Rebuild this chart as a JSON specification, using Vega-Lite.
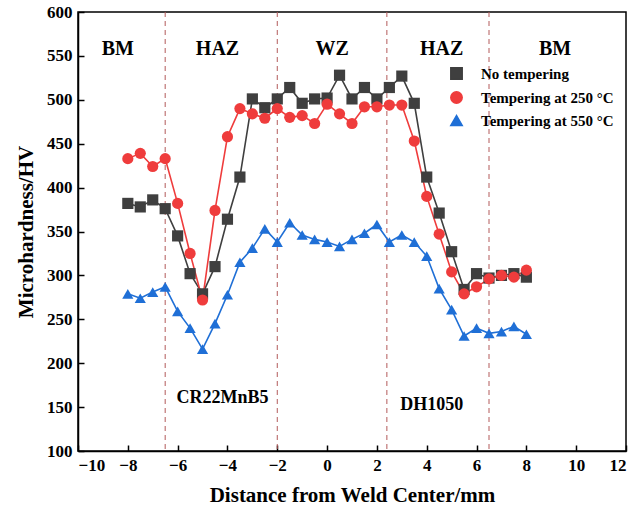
{
  "$schema": "https://vega.github.io/schema/vega-lite/v6.json",
  "width": 548,
  "height": 439,
  "autosize": {"type": "none"},
  "padding": {"left": 78, "top": 12, "right": 7, "bottom": 59},
  "background": "white",
  "config": {
    "view": {"stroke": "black", "strokeWidth": 1.5},
    "font": "Liberation Serif",
    "axis": {
      "domainColor": "black",
      "domainWidth": 1.5,
      "tickColor": "black",
      "tickWidth": 1.5,
      "tickSize": -6,
      "labelPadding": 12,
      "grid": false,
      "labelColor": "black",
      "labelFont": "Liberation Serif",
      "labelFontSize": 17,
      "labelFontWeight": "bold",
      "titleColor": "black",
      "titleFont": "Liberation Serif",
      "titleFontSize": 21,
      "titleFontWeight": "bold"
    }
  },
  "datasets": {
    "hv": [
      {"x": -8, "hv": 382, "series": "No tempering"},
      {"x": -7.5, "hv": 378, "series": "No tempering"},
      {"x": -7, "hv": 386, "series": "No tempering"},
      {"x": -6.5, "hv": 376, "series": "No tempering"},
      {"x": -6, "hv": 345, "series": "No tempering"},
      {"x": -5.5, "hv": 302, "series": "No tempering"},
      {"x": -5, "hv": 279, "series": "No tempering"},
      {"x": -4.5, "hv": 310, "series": "No tempering"},
      {"x": -4, "hv": 364, "series": "No tempering"},
      {"x": -3.5, "hv": 412, "series": "No tempering"},
      {"x": -3, "hv": 501, "series": "No tempering"},
      {"x": -2.5, "hv": 491, "series": "No tempering"},
      {"x": -2, "hv": 501, "series": "No tempering"},
      {"x": -1.5, "hv": 514, "series": "No tempering"},
      {"x": -1, "hv": 496, "series": "No tempering"},
      {"x": -0.5, "hv": 501, "series": "No tempering"},
      {"x": 0, "hv": 502, "series": "No tempering"},
      {"x": 0.5, "hv": 528, "series": "No tempering"},
      {"x": 1, "hv": 501, "series": "No tempering"},
      {"x": 1.5, "hv": 514, "series": "No tempering"},
      {"x": 2, "hv": 501, "series": "No tempering"},
      {"x": 2.5, "hv": 514, "series": "No tempering"},
      {"x": 3, "hv": 527, "series": "No tempering"},
      {"x": 3.5, "hv": 496, "series": "No tempering"},
      {"x": 4, "hv": 412, "series": "No tempering"},
      {"x": 4.5, "hv": 371, "series": "No tempering"},
      {"x": 5, "hv": 327, "series": "No tempering"},
      {"x": 5.5, "hv": 284, "series": "No tempering"},
      {"x": 6, "hv": 302, "series": "No tempering"},
      {"x": 6.5, "hv": 297, "series": "No tempering"},
      {"x": 7, "hv": 300, "series": "No tempering"},
      {"x": 7.5, "hv": 302, "series": "No tempering"},
      {"x": 8, "hv": 298, "series": "No tempering"},
      {"x": -8, "hv": 433, "series": "Tempering at 250 °C"},
      {"x": -7.5, "hv": 439, "series": "Tempering at 250 °C"},
      {"x": -7, "hv": 424, "series": "Tempering at 250 °C"},
      {"x": -6.5, "hv": 433, "series": "Tempering at 250 °C"},
      {"x": -6, "hv": 382, "series": "Tempering at 250 °C"},
      {"x": -5.5, "hv": 325, "series": "Tempering at 250 °C"},
      {"x": -5, "hv": 272, "series": "Tempering at 250 °C"},
      {"x": -4.5, "hv": 374, "series": "Tempering at 250 °C"},
      {"x": -4, "hv": 458, "series": "Tempering at 250 °C"},
      {"x": -3.5, "hv": 490, "series": "Tempering at 250 °C"},
      {"x": -3, "hv": 484, "series": "Tempering at 250 °C"},
      {"x": -2.5, "hv": 479, "series": "Tempering at 250 °C"},
      {"x": -2, "hv": 490, "series": "Tempering at 250 °C"},
      {"x": -1.5, "hv": 480, "series": "Tempering at 250 °C"},
      {"x": -1, "hv": 482, "series": "Tempering at 250 °C"},
      {"x": -0.5, "hv": 473, "series": "Tempering at 250 °C"},
      {"x": 0, "hv": 495, "series": "Tempering at 250 °C"},
      {"x": 0.5, "hv": 484, "series": "Tempering at 250 °C"},
      {"x": 1, "hv": 473, "series": "Tempering at 250 °C"},
      {"x": 1.5, "hv": 492, "series": "Tempering at 250 °C"},
      {"x": 2, "hv": 492, "series": "Tempering at 250 °C"},
      {"x": 2.5, "hv": 494, "series": "Tempering at 250 °C"},
      {"x": 3, "hv": 494, "series": "Tempering at 250 °C"},
      {"x": 3.5, "hv": 453, "series": "Tempering at 250 °C"},
      {"x": 4, "hv": 390, "series": "Tempering at 250 °C"},
      {"x": 4.5, "hv": 347, "series": "Tempering at 250 °C"},
      {"x": 5, "hv": 304, "series": "Tempering at 250 °C"},
      {"x": 5.5, "hv": 279, "series": "Tempering at 250 °C"},
      {"x": 6, "hv": 287, "series": "Tempering at 250 °C"},
      {"x": 6.5, "hv": 296, "series": "Tempering at 250 °C"},
      {"x": 7, "hv": 300, "series": "Tempering at 250 °C"},
      {"x": 7.5, "hv": 298, "series": "Tempering at 250 °C"},
      {"x": 8, "hv": 306, "series": "Tempering at 250 °C"},
      {"x": -8, "hv": 279, "series": "Tempering at 550 °C"},
      {"x": -7.5, "hv": 274, "series": "Tempering at 550 °C"},
      {"x": -7, "hv": 281, "series": "Tempering at 550 °C"},
      {"x": -6.5, "hv": 287, "series": "Tempering at 550 °C"},
      {"x": -6, "hv": 259, "series": "Tempering at 550 °C"},
      {"x": -5.5, "hv": 240, "series": "Tempering at 550 °C"},
      {"x": -5, "hv": 216, "series": "Tempering at 550 °C"},
      {"x": -4.5, "hv": 245, "series": "Tempering at 550 °C"},
      {"x": -4, "hv": 278, "series": "Tempering at 550 °C"},
      {"x": -3.5, "hv": 315, "series": "Tempering at 550 °C"},
      {"x": -3, "hv": 331, "series": "Tempering at 550 °C"},
      {"x": -2.5, "hv": 353, "series": "Tempering at 550 °C"},
      {"x": -2, "hv": 338, "series": "Tempering at 550 °C"},
      {"x": -1.5, "hv": 360, "series": "Tempering at 550 °C"},
      {"x": -1, "hv": 346, "series": "Tempering at 550 °C"},
      {"x": -0.5, "hv": 341, "series": "Tempering at 550 °C"},
      {"x": 0, "hv": 338, "series": "Tempering at 550 °C"},
      {"x": 0.5, "hv": 333, "series": "Tempering at 550 °C"},
      {"x": 1, "hv": 341, "series": "Tempering at 550 °C"},
      {"x": 1.5, "hv": 348, "series": "Tempering at 550 °C"},
      {"x": 2, "hv": 358, "series": "Tempering at 550 °C"},
      {"x": 2.5, "hv": 338, "series": "Tempering at 550 °C"},
      {"x": 3, "hv": 346, "series": "Tempering at 550 °C"},
      {"x": 3.5, "hv": 338, "series": "Tempering at 550 °C"},
      {"x": 4, "hv": 322, "series": "Tempering at 550 °C"},
      {"x": 4.5, "hv": 285, "series": "Tempering at 550 °C"},
      {"x": 5, "hv": 261, "series": "Tempering at 550 °C"},
      {"x": 5.5, "hv": 231, "series": "Tempering at 550 °C"},
      {"x": 6, "hv": 240, "series": "Tempering at 550 °C"},
      {"x": 6.5, "hv": 234, "series": "Tempering at 550 °C"},
      {"x": 7, "hv": 236, "series": "Tempering at 550 °C"},
      {"x": 7.5, "hv": 242, "series": "Tempering at 550 °C"},
      {"x": 8, "hv": 233, "series": "Tempering at 550 °C"}
    ],
    "zones": [{"d": -6.5}, {"d": -2}, {"d": 2.4}, {"d": 6.5}],
    "regions": [
      {"x": -8.4, "y": 558, "label": "BM"},
      {"x": -4.4, "y": 558, "label": "HAZ"},
      {"x": 0.2, "y": 558, "label": "WZ"},
      {"x": 4.6, "y": 558, "label": "HAZ"},
      {"x": 9.15, "y": 558, "label": "BM"}
    ],
    "steels": [
      {"x": -4.2, "y": 160, "label": "CR22MnB5"},
      {"x": 4.2, "y": 152, "label": "DH1050"}
    ]
  },
  "layer": [
    {
      "data": {"name": "zones"},
      "mark": {"type": "rule", "color": "#b35a5a", "strokeWidth": 1, "strokeDash": [5, 4]},
      "encoding": {
        "x": {"field": "d", "type": "quantitative", "scale": {"domain": [-10, 12], "nice": false, "zero": false}}
      }
    },
    {
      "data": {"name": "hv"},
      "mark": {"type": "line", "strokeWidth": 1.6},
      "encoding": {
        "x": {"field": "x", "type": "quantitative", "scale": {"domain": [-10, 12], "nice": false, "zero": false},
          "axis": {"values": [-10, -8, -6, -4, -2, 0, 2, 4, 6, 8, 10, 12], "title": "Distance from Weld Center/mm", "titlePadding": 11}},
        "y": {"field": "hv", "type": "quantitative", "scale": {"domain": [100, 600], "nice": false, "zero": false},
          "axis": {"values": [100, 150, 200, 250, 300, 350, 400, 450, 500, 550, 600], "title": "Microhardness/HV", "titlePadding": 10}},
        "color": {"field": "series", "type": "nominal",
          "scale": {"domain": ["No tempering", "Tempering at 250 °C", "Tempering at 550 °C"], "range": ["#3f3f3f", "#ef3c3c", "#1f6fd6"]}},
        "detail": {"field": "series"}
      }
    },
    {
      "data": {"name": "hv"},
      "mark": {"type": "point", "filled": true, "opacity": 1, "size": 125},
      "encoding": {
        "x": {"field": "x", "type": "quantitative"},
        "y": {"field": "hv", "type": "quantitative"},
        "color": {"field": "series", "type": "nominal",
          "scale": {"domain": ["No tempering", "Tempering at 250 °C", "Tempering at 550 °C"], "range": ["#3f3f3f", "#ef3c3c", "#1f6fd6"]},
          "legend": {
            "title": null,
            "orient": "none",
            "legendX": 371,
            "legendY": 54,
            "padding": 0,
            "symbolSize": 130,
            "labelFont": "Liberation Serif",
            "labelFontSize": 15,
            "labelFontWeight": "bold",
            "labelColor": "black",
            "labelOffset": 17,
            "rowPadding": 5
          }},
        "shape": {"field": "series", "type": "nominal", "legend": null,
          "scale": {"domain": ["No tempering", "Tempering at 250 °C", "Tempering at 550 °C"], "range": ["square", "circle", "triangle-up"]}}
      }
    },
    {
      "data": {"name": "regions"},
      "mark": {"type": "text", "font": "Liberation Serif", "fontSize": 20, "fontWeight": "bold", "color": "black", "align": "center", "baseline": "middle"},
      "encoding": {
        "x": {"field": "x", "type": "quantitative"},
        "y": {"field": "y", "type": "quantitative"},
        "text": {"field": "label"}
      }
    },
    {
      "data": {"name": "steels"},
      "mark": {"type": "text", "font": "Liberation Serif", "fontSize": 18, "fontWeight": "bold", "color": "black", "align": "center", "baseline": "middle"},
      "encoding": {
        "x": {"field": "x", "type": "quantitative"},
        "y": {"field": "y", "type": "quantitative"},
        "text": {"field": "label"}
      }
    }
  ]
}
